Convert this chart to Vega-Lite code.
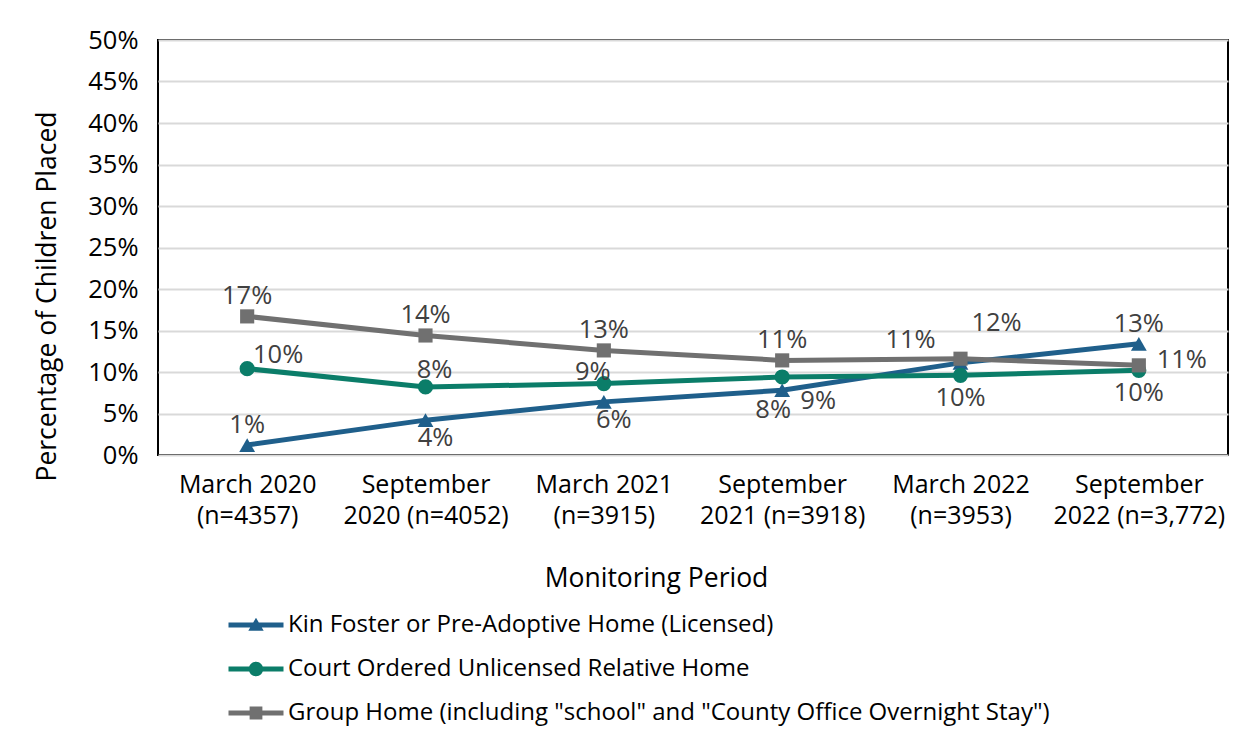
{
  "$schema": "https://vega.github.io/schema/vega-lite/v6.json",
  "autosize": {"type": "none"},
  "width": 1070,
  "height": 415,
  "padding": {"left": 158, "top": 40, "right": 20, "bottom": 288},
  "background": "white",
  "config": {
    "font": "Open Sans",
    "view": {"stroke": "black", "strokeWidth": 2},
    "text": {"font": "Open Sans"},
    "axis": {"labelFont": "Open Sans", "titleFont": "Open Sans", "labelColor": "black", "titleColor": "black", "titleFontWeight": "normal"}
  },
  "data": {"values": [
    {"series": "Kin Foster or Pre-Adoptive Home (Licensed)", "period": "March 2020 (n=4357)", "value": 0.012},
    {"series": "Kin Foster or Pre-Adoptive Home (Licensed)", "period": "September 2020 (n=4052)", "value": 0.042},
    {"series": "Kin Foster or Pre-Adoptive Home (Licensed)", "period": "March 2021 (n=3915)", "value": 0.064},
    {"series": "Kin Foster or Pre-Adoptive Home (Licensed)", "period": "September 2021 (n=3918)", "value": 0.078},
    {"series": "Kin Foster or Pre-Adoptive Home (Licensed)", "period": "March 2022 (n=3953)", "value": 0.111},
    {"series": "Kin Foster or Pre-Adoptive Home (Licensed)", "period": "September 2022 (n=3,772)", "value": 0.134},
    {"series": "Court Ordered Unlicensed Relative Home", "period": "March 2020 (n=4357)", "value": 0.104},
    {"series": "Court Ordered Unlicensed Relative Home", "period": "September 2020 (n=4052)", "value": 0.082},
    {"series": "Court Ordered Unlicensed Relative Home", "period": "March 2021 (n=3915)", "value": 0.086},
    {"series": "Court Ordered Unlicensed Relative Home", "period": "September 2021 (n=3918)", "value": 0.094},
    {"series": "Court Ordered Unlicensed Relative Home", "period": "March 2022 (n=3953)", "value": 0.096},
    {"series": "Court Ordered Unlicensed Relative Home", "period": "September 2022 (n=3,772)", "value": 0.102},
    {"series": "Group Home (including \"school\" and \"County Office Overnight Stay\")", "period": "March 2020 (n=4357)", "value": 0.167},
    {"series": "Group Home (including \"school\" and \"County Office Overnight Stay\")", "period": "September 2020 (n=4052)", "value": 0.144},
    {"series": "Group Home (including \"school\" and \"County Office Overnight Stay\")", "period": "March 2021 (n=3915)", "value": 0.126},
    {"series": "Group Home (including \"school\" and \"County Office Overnight Stay\")", "period": "September 2021 (n=3918)", "value": 0.114},
    {"series": "Group Home (including \"school\" and \"County Office Overnight Stay\")", "period": "March 2022 (n=3953)", "value": 0.116},
    {"series": "Group Home (including \"school\" and \"County Office Overnight Stay\")", "period": "September 2022 (n=3,772)", "value": 0.108}
  ]},
  "encoding": {
    "x": {
      "field": "period", "type": "ordinal", "sort": null,
      "scale": {"type": "point", "padding": 0.5},
      "axis": {
        "labelAngle": 0, "labelFontSize": 25, "labelLineHeight": 31, "labelPadding": 17,
        "labelExpr": "indexof(datum.label,'September')==0 ? ['September', substring(datum.label,10)] : [substring(datum.label,0,10), substring(datum.label,11)]",
        "ticks": false, "domain": false, "grid": false,
        "title": "Monitoring Period", "titleFontSize": 26.5, "titlePadding": 37, "titleX": 498
      }
    },
    "y": {
      "field": "value", "type": "quantitative",
      "scale": {"domain": [0, 0.5], "nice": false},
      "axis": {
        "format": ".0%", "values": [0, 0.05, 0.1, 0.15, 0.2, 0.25, 0.3, 0.35, 0.4, 0.45, 0.5],
        "labelFontSize": 25.5, "labelPadding": 20, "ticks": false, "domain": false,
        "grid": true, "gridColor": "#d9d9d9", "gridWidth": 2,
        "title": "Percentage of Children Placed", "titleFontSize": 26.5, "titlePadding": 26, "titleY": 256
      }
    }
  },
  "layer": [
    {
      "mark": {"type": "line", "strokeWidth": 5},
      "encoding": {
        "color": {
          "field": "series", "type": "nominal",
          "scale": {
            "domain": ["Kin Foster or Pre-Adoptive Home (Licensed)", "Court Ordered Unlicensed Relative Home", "Group Home (including \"school\" and \"County Office Overnight Stay\")"],
            "range": ["#1f5f8b", "#0b7d69", "#707070"]
          },
          "legend": {
            "title": null, "orient": "none", "legendX": 86, "legendY": 573, "direction": "vertical",
            "labelFontSize": 24, "labelFont": "Open Sans", "labelColor": "black", "labelLimit": 900,
            "rowPadding": 20, "labelOffset": 20, "symbolSize": 484,
            "encode": {
              "symbols": {
                "update": {
                  "shape": {"signal": "indexof(datum.value,'Kin')==0 ? 'M-2.5,-0.23H2.5V0.23H-2.5Z M0,-0.66L0.7,0.52H-0.7Z' : indexof(datum.value,'Court')==0 ? 'M-2.5,-0.23H2.5V0.23H-2.5Z M0.66,0A0.66,0.66,0,1,1,-0.66,0A0.66,0.66,0,1,1,0.66,0Z' : 'M-2.5,-0.23H2.5V0.23H-2.5Z M-0.58,-0.58H0.58V0.58H-0.58Z'"},
                  "fill": {"scale": "color", "field": "value"},
                  "stroke": {"value": "transparent"},
                  "strokeWidth": {"value": 0},
                  "opacity": {"value": 1}
                }
              }
            }
          }
        }
      }
    },
    {
      "transform": [{"filter": "indexof(datum.series,'Kin')==0"}],
      "mark": {"type": "point", "shape": "triangle-up", "filled": true, "opacity": 1, "size": 250},
      "encoding": {"color": {"field": "series", "type": "nominal", "legend": null}}
    },
    {
      "transform": [{"filter": "indexof(datum.series,'Court')==0"}],
      "mark": {"type": "point", "shape": "circle", "filled": true, "opacity": 1, "size": 230},
      "encoding": {"color": {"field": "series", "type": "nominal", "legend": null}}
    },
    {
      "transform": [{"filter": "indexof(datum.series,'Group')==0"}],
      "mark": {"type": "point", "shape": "square", "filled": true, "opacity": 1, "size": 200},
      "encoding": {"color": {"field": "series", "type": "nominal", "legend": null}}
    },
    {
      "transform": [{"filter": "(indexof(datum.series,'Group')==0 && indexof(datum.period,'March 2022')!=0 && indexof(datum.period,'September 2022')!=0) || (indexof(datum.series,'Kin')==0 && (indexof(datum.period,'March 2020')==0 || indexof(datum.period,'September 2022')==0))"}],
      "mark": {"type": "text", "dx": 0, "dy": -20, "fontSize": 25.5, "color": "#404040"},
      "encoding": {"text": {"field": "value", "format": ".0%"}}
    },
    {
      "transform": [{"filter": "indexof(datum.series,'Court')==0 && indexof(datum.period,'September 2020')==0"}],
      "mark": {"type": "text", "dx": 9, "dy": -17, "fontSize": 25.5, "color": "#404040"},
      "encoding": {"text": {"field": "value", "format": ".0%"}}
    },
    {
      "transform": [{"filter": "indexof(datum.series,'Court')==0 && indexof(datum.period,'March 2020')==0"}],
      "mark": {"type": "text", "dx": 31, "dy": -14, "fontSize": 25.5, "color": "#404040"},
      "encoding": {"text": {"field": "value", "format": ".0%"}}
    },
    {
      "transform": [{"filter": "indexof(datum.series,'Court')==0 && indexof(datum.period,'March 2021')==0"}],
      "mark": {"type": "text", "dx": -11, "dy": -12, "fontSize": 25.5, "color": "#404040"},
      "encoding": {"text": {"field": "value", "format": ".0%"}}
    },
    {
      "transform": [{"filter": "indexof(datum.series,'Court')==0 && indexof(datum.period,'September 2021')==0"}],
      "mark": {"type": "text", "dx": 36, "dy": 24, "fontSize": 25.5, "color": "#404040"},
      "encoding": {"text": {"field": "value", "format": ".0%"}}
    },
    {
      "transform": [{"filter": "indexof(datum.series,'Court')==0 && (indexof(datum.period,'March 2022')==0 || indexof(datum.period,'September 2022')==0)"}],
      "mark": {"type": "text", "dx": 0, "dy": 23, "fontSize": 25.5, "color": "#404040"},
      "encoding": {"text": {"field": "value", "format": ".0%"}}
    },
    {
      "transform": [{"filter": "indexof(datum.series,'Kin')==0 && (indexof(datum.period,'September 2020')==0 || indexof(datum.period,'March 2021')==0)"}],
      "mark": {"type": "text", "dx": 10, "dy": 18, "fontSize": 25.5, "color": "#404040"},
      "encoding": {"text": {"field": "value", "format": ".0%"}}
    },
    {
      "transform": [{"filter": "indexof(datum.series,'Kin')==0 && indexof(datum.period,'September 2021')==0"}],
      "mark": {"type": "text", "dx": -9, "dy": 20, "fontSize": 25.5, "color": "#404040"},
      "encoding": {"text": {"field": "value", "format": ".0%"}}
    },
    {
      "transform": [{"filter": "indexof(datum.series,'Kin')==0 && indexof(datum.period,'March 2022')==0"}],
      "mark": {"type": "text", "dx": -50, "dy": -23, "fontSize": 25.5, "color": "#404040"},
      "encoding": {"text": {"field": "value", "format": ".0%"}}
    },
    {
      "transform": [{"filter": "indexof(datum.series,'Group')==0 && indexof(datum.period,'March 2022')==0"}],
      "mark": {"type": "text", "dx": 36, "dy": -36, "fontSize": 25.5, "color": "#404040"},
      "encoding": {"text": {"field": "value", "format": ".0%"}}
    },
    {
      "transform": [{"filter": "indexof(datum.series,'Group')==0 && indexof(datum.period,'September 2022')==0"}],
      "mark": {"type": "text", "dx": 43, "dy": -5, "fontSize": 25.5, "color": "#404040"},
      "encoding": {"text": {"field": "value", "format": ".0%"}}
    }
  ]
}
